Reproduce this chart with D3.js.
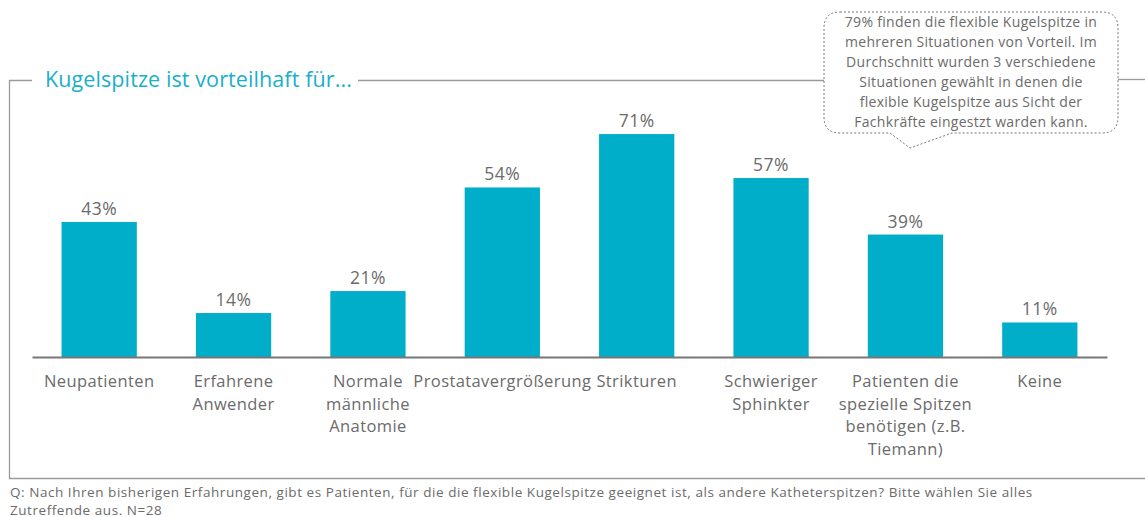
<!DOCTYPE html>
<html lang="de">
<head>
<meta charset="utf-8">
<title>Kugelspitze ist vorteilhaft für...</title>
<script src="https://d3js.org/d3.v7.min.js"></script>
<style>
  body { margin: 0; background: #fff; }
  text { font-family: "Open Sans", "Noto Sans", sans-serif; }
</style>
</head>
<body>
<svg width="1145" height="517"></svg>
<script>
// data
var categories = ["Neupatienten", "Erfahrene\nAnwender", "Normale\nmännliche\nAnatomie",
  "Prostatavergrößerung", "Strikturen", "Schwieriger\nSphinkter",
  "Patienten die\nspezielle Spitzen\nbenötigen (z.B.\nTiemann)", "Keine"]
var values = [43, 14, 21, 54, 71, 57, 39, 11]
var title = "Kugelspitze ist vorteilhaft für..."
var calloutLines = ["79% finden die flexible Kugelspitze in", "mehreren Situationen von Vorteil. Im",
  "Durchschnitt wurden 3 verschiedene", "Situationen gewählt in denen die",
  "flexible Kugelspitze aus Sicht der", "Fachkräfte eingestzt warden kann."]
var footnoteLines = ["Q: Nach Ihren bisherigen Erfahrungen, gibt es Patienten, für die die flexible Kugelspitze geeignet ist, als andere Katheterspitzen? Bitte wählen Sie alles",
  "Zutreffende aus. N=28"]

var teal = "#00aec9", grey = "#6b6b6b", frame = "#9a9a9a"
var svg = d3.select("svg")

var x = d3.scaleBand().domain(categories).range([32, 1107]).paddingInner(0.44).paddingOuter(0.22)
var y = d3.scaleLinear().domain([0, 100]).range([357, 43])

// frame around the chart
svg.append("path")
  .attr("d", "M32,80.5H9.5V478.5H1145")
  .attr("fill", "none").attr("stroke", frame).attr("stroke-width", 1.3)
svg.append("line").attr("x1", 358).attr("x2", 824).attr("y1", 80.5).attr("y2", 80.5)
  .attr("stroke", frame).attr("stroke-width", 1.3)
svg.append("line").attr("x1", 1118).attr("x2", 1145).attr("y1", 79.5).attr("y2", 79.5)
  .attr("stroke", frame).attr("stroke-width", 1.3)

svg.append("text").attr("x", 45).attr("y", 87)
  .attr("fill", "#1aafc9").style("font-size", "21.5px").style("letter-spacing", "0.1px")
  .text(title)

// bars
svg.selectAll("rect.bar").data(values).enter().append("rect")
  .attr("class", "bar")
  .attr("x", function(d, i) { return x(categories[i]) })
  .attr("width", x.bandwidth())
  .attr("y", function(d) { return y(d) })
  .attr("height", function(d) { return y(0) - y(d) })
  .attr("fill", teal)

svg.selectAll("text.val").data(values).enter().append("text")
  .attr("class", "val")
  .attr("x", function(d, i) { return x(categories[i]) + x.bandwidth() / 2 })
  .attr("y", function(d) { return y(d) - 7 })
  .attr("text-anchor", "middle")
  .attr("fill", grey).style("font-size", "17.5px").style("letter-spacing", "0.5px")
  .text(function(d) { return d + "%" })

// x axis
var axis = svg.append("g").attr("transform", "translate(0," + y(0) + ")")
  .call(d3.axisBottom(x).tickSize(0).tickSizeOuter(0))
axis.select(".domain").attr("stroke", "#777").attr("stroke-width", 2)
axis.selectAll(".tick text").each(function(d) {
  var t = d3.select(this).text(null)
    .attr("fill", grey).attr("y", 30).attr("dy", null)
    .style("font-size", "16.5px").style("letter-spacing", "0.4px")
    .style("font-family", "'Open Sans', sans-serif")
  d.split("\n").forEach(function(line, k) {
    t.append("tspan").attr("x", 0).attr("y", 30 + k * 22.5).text(line)
  })
})

// callout bubble
var cx0 = 824, cx1 = 1118, cy0 = 12, cy1 = 133, r = 16
var bubble = "M" + (cx0 + r) + "," + cy0 + "H" + (cx1 - r) + "Q" + cx1 + "," + cy0 + " " + cx1 + "," + (cy0 + r) +
  "V" + (cy1 - r) + "Q" + cx1 + "," + cy1 + " " + (cx1 - r) + "," + cy1 +
  "H952L910,148L890," + cy1 + "H" + (cx0 + r) + "Q" + cx0 + "," + cy1 + " " + cx0 + "," + (cy1 - r) +
  "V" + (cy0 + r) + "Q" + cx0 + "," + cy0 + " " + (cx0 + r) + "," + cy0 + "Z"
svg.append("path").attr("d", bubble)
  .attr("fill", "#fff").attr("stroke", "#777").attr("stroke-width", 1)
  .attr("stroke-dasharray", "2,2")
svg.selectAll("text.call").data(calloutLines).enter().append("text")
  .attr("class", "call")
  .attr("x", 971).attr("y", function(d, i) { return 27 + i * 20 })
  .attr("text-anchor", "middle").attr("fill", grey)
  .style("font-size", "14px").style("letter-spacing", "0.3px")
  .text(function(d) { return d })

// footnote
svg.selectAll("text.foot").data(footnoteLines).enter().append("text")
  .attr("class", "foot")
  .attr("x", 10).attr("y", function(d, i) { return 497 + i * 17.5 })
  .attr("fill", grey).style("font-size", "13.5px").style("letter-spacing", "0.55px")
  .text(function(d) { return d })
</script>
</body>
</html>
